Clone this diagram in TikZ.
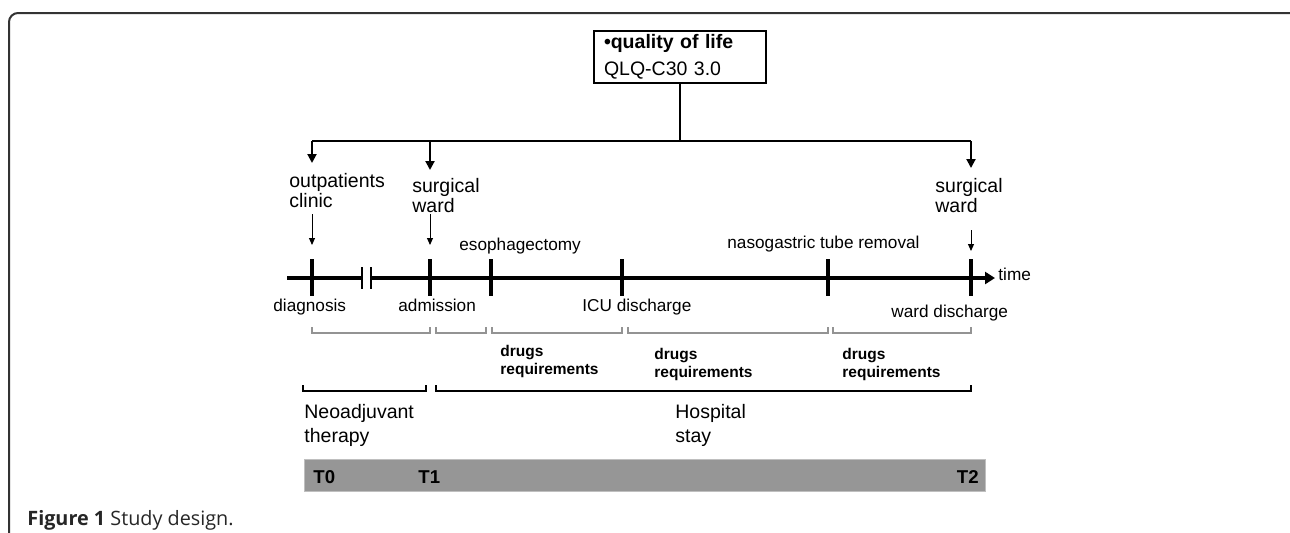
\documentclass[tikz,border=0pt]{standalone}
\usepackage{fontspec}
\setmainfont{Liberation Sans}
\newfontfamily\capfont{Open Sans}
\usetikzlibrary{arrows.meta}
\begin{document}
\begin{tikzpicture}[x=.5pt,y=-.5pt,
  lbl/.style={inner sep=0pt,font=\fontsize{8.6}{10}\selectfont},
  big/.style={inner sep=0pt,align=left,font=\fontsize{9.75}{10}\selectfont},
  drug/.style={inner sep=0pt,align=left,font=\fontsize{7.75}{9}\selectfont\bfseries},
  tlab/.style={inner sep=0pt,font=\fontsize{9.3}{10}\selectfont\bfseries},
  bigarrow/.style={line width=1pt,-{Triangle[length=4.5pt,width=4.5pt]}},
  smallarrow/.style={line width=.5pt,-{Triangle[length=3.5pt,width=3pt]}}]
\useasboundingbox (0,0) rectangle (1290,532);
\begin{scope}
\clip (0,0) rectangle (1290,532);
\draw[line width=1pt,black!80,rounded corners=4.5pt] (9,13) rectangle (1310,560);
\end{scope}
\node[draw,line width=.9pt,inner xsep=5pt,inner ysep=0pt,minimum height=26pt,text width=76pt,align=left,font=\fontsize{9.75}{13.5}\selectfont] (qol) at (680,57) {\textbf{•quality of life}\\QLQ-C30 3.0};
\coordinate (qa) at (312,141);
\coordinate (qb) at (430,141);
\coordinate (qc) at (971,141);
\draw[line width=1pt] (qol.south) -- (qol.south |- qa);
\draw[line width=1pt] (qa) -- (qc);
\node[big,anchor=north west] (outp) at (289,173) {outpatients\\clinic};
\node[big,anchor=north west] (surga) at (412,178) {surgical\\ward};
\node[big,anchor=north west] (surgb) at (935,178) {surgical\\ward};
\draw[bigarrow] (qa) -- ([yshift=5pt]qa |- outp.north);
\draw[bigarrow] (qb) -- ([yshift=4pt]qb |- surga.north);
\draw[bigarrow] (qc) -- ([yshift=5pt]qc |- surgb.north);
\foreach \n/\x in {a/312,b/430,c/491,d/622,e/828,f/971}
  \coordinate (k\n) at (\x,278);
\coordinate (t0) at (287,278);
\coordinate (brk1) at (362,278);
\coordinate (brk2) at (371,278);
\coordinate (tend) at (995,278);
\draw[line width=2pt] (t0) -- (brk1);
\draw[line width=1pt] ([yshift=5.5pt]brk1) -- ([yshift=-5.5pt]brk1);
\draw[line width=1pt] ([yshift=5.5pt]brk2) -- ([yshift=-5.5pt]brk2);
\draw[line width=2pt,-{Triangle[length=5pt,width=6pt]}] (brk2) -- (tend);
\foreach \n in {a,b,c,d,e,f}
  \draw[line width=2pt] ([yshift=9.5pt]k\n) -- ([yshift=-9pt]k\n);
\draw[smallarrow] ([yshift=-3pt]outp.south -| ka) -- ([yshift=16.5pt]ka);
\draw[smallarrow] ([yshift=-.5pt]surga.south -| kb) -- ([yshift=16.5pt]kb);
\draw[smallarrow] ([yshift=-8.5pt]surgb.south -| kf) -- ([yshift=13.5pt]kf);
\node[lbl,anchor=base west] (esoph) at (459,250) {esophagectomy};
\node[lbl,anchor=base west] (naso) at (727,248) {nasogastric tube removal};
\node[lbl,anchor=base west] (time) at (998,280) {time};
\node[lbl,anchor=base west] (diag) at (273,311) {diagnosis};
\node[lbl,anchor=base west] (adm) at (398,311) {admission};
\node[lbl,anchor=base west] (icu) at (582,311) {ICU discharge};
\node[lbl,anchor=base west] (wdis) at (891,317) {ward discharge};
\foreach \a/\b in {312/430,436/486,492/622,628/828,833/971}
  \draw[gray!85,line width=.75pt] (\a,327) -- (\a,333) -- (\b,333) -- (\b,327);
\foreach \n/\x/\y in {a/500/345,b/654/348,c/842/348}
  \node[drug,anchor=north west] (drug\n) at (\x,\y) {drugs\\requirements};
\draw[line width=1.2pt] (303,385) -- (303,391) -- (426,391) -- (426,385);
\draw[line width=1.2pt] (436,385) -- (436,391) -- (971,391) -- (971,385);
\node[big,font=\fontsize{9.75}{12}\selectfont,anchor=north west] (neo) at (304,404) {Neoadjuvant\\therapy};
\node[big,font=\fontsize{9.75}{12}\selectfont,anchor=north west] (hosp) at (675,404) {Hospital\\stay};
\filldraw[fill=black!41,draw=black!25,line width=.5pt] (304,459) rectangle (985,491);
\node[tlab,anchor=base west] (tz) at (313,483) {T0};
\node[tlab,anchor=base west] (to) at (418,483) {T1};
\node[tlab,anchor=base east] (tt) at (979,483) {T2};
\node[anchor=base west,inner sep=0pt,text=black!85,font=\capfont\fontsize{9.9}{11}\selectfont] (cap) at (27,525) {\textbf{Figure 1} Study design.};
\end{tikzpicture}
\end{document}
